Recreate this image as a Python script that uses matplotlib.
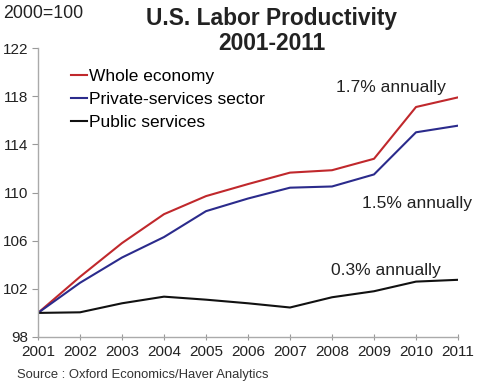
import matplotlib
matplotlib.use("Agg")
import matplotlib.pyplot as plt

years = [2001, 2002, 2003, 2004, 2005, 2006, 2007, 2008, 2009, 2010, 2011]
whole_economy = [100, 103.0, 105.8, 108.2, 109.7, 110.7, 111.65, 111.85, 112.8, 117.1, 117.9]
private_services = [100, 102.5, 104.6, 106.3, 108.45, 109.5, 110.4, 110.5, 111.5, 115.0, 115.55]
public_services = [100, 100.05, 100.8, 101.35, 101.1, 100.8, 100.45, 101.3, 101.8, 102.6, 102.75]
yticks = [98, 102, 106, 110, 114, 118, 122]

plt.rcParams['font.family'] = ['Liberation Sans', 'DejaVu Sans']

fig = plt.figure(figsize=(4.8, 3.83), dpi=100)
ax = fig.add_axes([38/480, 46/383, 420/480, 289/383])

ax.plot(years, whole_economy, color='#c0282c', lw=1.5, label='Whole economy')
ax.plot(years, private_services, color='#2b2b8c', lw=1.5, label='Private-services sector')
ax.plot(years, public_services, color='#111111', lw=1.5, label='Public services')

ax.set_xlim(2001, 2011)
ax.set_ylim(98, 122)
ax.set_xticks(years)
ax.set_yticks(yticks)
ax.tick_params(axis='both', labelsize=11, colors='#999999', labelcolor='#222222', length=4, width=0.8)
ax.tick_params(axis='x', direction='inout', pad=4)
ax.tick_params(axis='y', direction='out', pad=3)
for s in ['top', 'right']:
    ax.spines[s].set_visible(False)
for s in ['left', 'bottom']:
    ax.spines[s].set_color('#aaaaaa')
    ax.spines[s].set_linewidth(1.0)

leg = ax.legend(loc='upper left', bbox_to_anchor=(0.063, 0.953), frameon=False, fontsize=12.5,
                handlelength=0.9, handletextpad=0.1, labelspacing=0.45, borderaxespad=0)

ax.text(2009.4, 118.7, '1.7% annually', fontsize=12.5, ha='center', va='center', color='#222222')
ax.text(2010.02, 109.1, '1.5% annually', fontsize=12.5, ha='center', va='center', color='#222222')
ax.text(2009.29, 103.55, '0.3% annually', fontsize=12.5, ha='center', va='center', color='#222222')

fig.text(272/480, 1 - 19/383, 'U.S. Labor Productivity', fontsize=16.4, fontweight='bold',
         ha='center', va='center', color='#222222')
fig.text(272/480, 1 - 44/383, '2001-2011', fontsize=16.4, fontweight='bold',
         ha='center', va='center', color='#222222')
fig.text(3/480, 1 - 14/383, '2000=100', fontsize=12.8, ha='left', va='center', color='#222222')
fig.text(17/480, 1 - 375/383, 'Source : Oxford Economics/Haver Analytics', fontsize=9.4,
         ha='left', va='center', color='#333333')

fig.savefig('out.png', dpi=100)
